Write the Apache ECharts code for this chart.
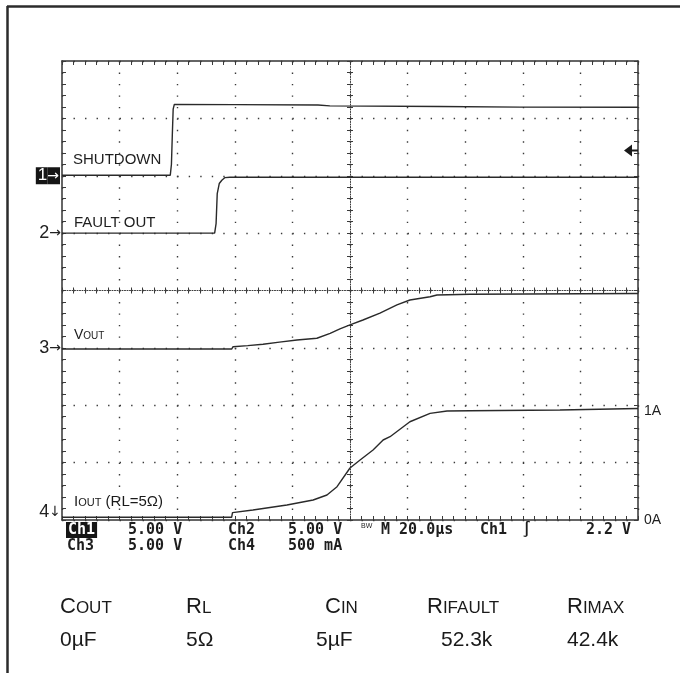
<!DOCTYPE html>
<html>
<head>
<meta charset="utf-8">
<script src="https://cdn.jsdelivr.net/npm/echarts@6/dist/echarts.min.js"></script>
<style>
  html, body { margin: 0; padding: 0; background: #ffffff; }
  #scope { width: 680px; height: 673px; }
</style>
</head>
<body>
<div id="scope"></div>
<script>
// Horizontal: 20 µs/div over 10 divisions
const timeMin = 0;
const timeMax = 200;
const timeStep = 20;

// CH1 – SHUTDOWN (V, 5 V/div)
const shutdownTime  = [0, 37.6, 38.0, 38.3, 38.6, 39.0, 60, 88.9, 93.0, 131, 159, 200];
const shutdownVolts = [0.05, 0.05, 1.0, 3.5, 5.8, 6.22, 6.2, 6.16, 6.09, 6.03, 5.98, 5.97];

// CH2 – FAULT OUT (V, 5 V/div)
const faultTime  = [0, 53.0, 53.5, 53.9, 54.6, 55.5, 56.6, 58.3, 200];
const faultVolts = [0, 0, 0.83, 3.44, 4.32, 4.61, 4.84, 4.87, 4.87];

// CH3 – VOUT (V, 5 V/div)
const voutTime  = [0, 58.9, 59.4, 64.5, 69.8, 75.5, 81.6, 88.5, 93.1, 96.5, 100, 104.5, 110.4, 116.3, 120.8, 127.8, 130.2, 141.7, 200];
const voutVolts = [-0.1, -0.1, 0.1, 0.2, 0.31, 0.5, 0.69, 0.84, 1.27, 1.65, 2.0, 2.43, 3.02, 3.74, 4.17, 4.46, 4.61, 4.67, 4.74];

// CH4 – IOUT (A)
const ioutTime = [0, 58.9, 59.2, 66.3, 78.1, 87.2, 92.0, 95.5, 100, 103.5, 108, 111.5, 113.9, 120.8, 127.8, 133.7, 141.7, 172.9, 200];
const ioutAmps = [0.025, 0.025, 0.067, 0.091, 0.137, 0.183, 0.229, 0.305, 0.476, 0.549, 0.64, 0.732, 0.762, 0.899, 0.976, 0.997, 1.0, 1.006, 1.02];

// Trigger level on CH1
const triggerLevel = 2.2;

// Channel reference markers and current-scale labels
const channelMarks = ['1\u2192', '2\u2192', '3\u2192', '4\u2193'];
const currentTicks = [0, 1];
const currentTickText = ['0A', '1A'];

// Test conditions printed under the screen
const condNames = [['C', 'OUT'], ['R', 'L'], ['C', 'IN'], ['R', 'IFAULT'], ['R', 'IMAX']];
const condValues = ['0\u00b5F', '5\u03a9', '5\u00b5F', '52.3k', '42.4k'];

const zip = (a, b) => a.map((v, i) => [v, b[i]]);

const INK = '#2a2a2a';
const GRID_INK = '#3a3a3a';
const SANS = '"Liberation Sans", Arial, sans-serif';
const MONO = '"DejaVu Sans Mono", "Liberation Mono", monospace';

const plot = { left: 62, top: 61, width: 576, height: 459 };
const yDotPeriod = plot.height / 40;   // minor-division spacing, vertical
const xDotPeriod = plot.width / 50;    // minor-division spacing, horizontal

function frameAxisX(position, withGrid) {
  return {
    type: 'value', min: timeMin, max: timeMax, interval: timeStep, position: position,
    axisLine: { show: true, onZero: false, lineStyle: { color: '#333', width: 1.5 } },
    axisTick: { show: true, inside: true, length: 4, lineStyle: { color: GRID_INK } },
    minorTick: { show: true, splitNumber: 5, length: 4, lineStyle: { color: GRID_INK } },
    axisLabel: { show: false },
    splitLine: withGrid ? { show: true, lineStyle: { color: GRID_INK, width: 1.4, type: [1.4, yDotPeriod - 1.4] } } : { show: false }
  };
}
function frameAxisY(position, withGrid) {
  return {
    type: 'value', min: 0, max: 8, interval: 1, position: position,
    axisLine: { show: true, onZero: false, lineStyle: { color: '#333', width: 1.5 } },
    axisTick: { show: true, inside: true, length: 4, lineStyle: { color: GRID_INK } },
    minorTick: { show: true, splitNumber: 5, length: 4, lineStyle: { color: GRID_INK } },
    axisLabel: { show: false },
    splitLine: withGrid ? { show: true, lineStyle: { color: GRID_INK, width: 1.4, type: [1.4, xDotPeriod - 1.4] } } : { show: false }
  };
}
// centre graticule lines with ticks crossing both sides
function centreAxisX(inside, visibleLine) {
  return {
    type: 'value', min: -5, max: 5, interval: 1, position: 'bottom',
    axisLine: { show: true, onZero: true, onZeroAxisIndex: 2,
      lineStyle: { color: GRID_INK, width: 1, type: [1, 1.5], opacity: visibleLine ? 1 : 0 } },
    axisTick: { show: true, inside: inside, length: 3, lineStyle: { color: GRID_INK } },
    minorTick: { show: true, splitNumber: 5, length: 3, lineStyle: { color: GRID_INK } },
    axisLabel: { show: false }, splitLine: { show: false }
  };
}
function centreAxisY(inside, visibleLine) {
  return {
    type: 'value', min: -4, max: 4, interval: 1, position: 'left',
    axisLine: { show: true, onZero: true, onZeroAxisIndex: 2,
      lineStyle: { color: GRID_INK, width: 1, type: [1, 1.5], opacity: visibleLine ? 1 : 0 } },
    axisTick: { show: true, inside: inside, length: 3, lineStyle: { color: GRID_INK } },
    minorTick: { show: true, splitNumber: 5, length: 3, lineStyle: { color: GRID_INK } },
    axisLabel: { show: false }, splitLine: { show: false }
  };
}
// per-channel vertical scale, labelled only at its ground reference
function channelAxis(min, max, interval, position, labelFn, labelStyle) {
  return {
    type: 'value', min: min, max: max, interval: interval, position: position,
    axisLine: { show: false, onZero: false }, axisTick: { show: false },
    splitLine: { show: false }, minorTick: { show: false },
    axisLabel: Object.assign({ show: true, formatter: labelFn, showMinLabel: true, showMaxLabel: true }, labelStyle)
  };
}

const markRich = {
  n: { fontFamily: SANS, fontSize: 18, color: '#222' },
  a: { fontFamily: 'DejaVu Sans', fontSize: 14, color: '#222' },
  bn: { fontFamily: SANS, fontSize: 17, color: '#fff', backgroundColor: '#151515', padding: [0, 0, 0, 2] },
  ba: { fontFamily: 'DejaVu Sans', fontSize: 14, color: '#fff', backgroundColor: '#151515', padding: [2, 1, 1, 0] }
};
const markLabel = (i) => (v) => {
  if (v !== 0) return '';
  const s = channelMarks[i];
  if (i === 0) return '{bn|' + s[0] + '}{ba|' + s[1] + '}';
  return '{n|' + s[0] + '}{a|' + s[1] + '}';
};

const traceStyle = { color: INK, width: 1.4 };
function trace(name, yIndex, data, extra) {
  return Object.assign({
    name: name, type: 'line', xAxisIndex: 0, yAxisIndex: yIndex, data: data,
    showSymbol: false, symbol: 'none', lineStyle: traceStyle, silent: true, animation: false
  }, extra || {});
}

function captionRich(size, subSize) {
  return {
    m: { fontFamily: SANS, fontSize: size, fill: '#1a1a1a', color: '#1a1a1a' },
    s: { fontFamily: SANS, fontSize: subSize, fill: '#1a1a1a', color: '#1a1a1a', verticalAlign: 'bottom', padding: [0, 0, 1, 0] }
  };
}

const condX = [60, 186, 325, 427, 567];
const condValX = [60, 186, 316, 441, 567];

const graphics = [
  // outer panel frame
  { type: 'line', shape: { x1: 7, y1: 6.5, x2: 680, y2: 6.5 }, style: { stroke: '#2b2b2b', lineWidth: 2.5 }, silent: true },
  { type: 'line', shape: { x1: 7.5, y1: 6, x2: 7.5, y2: 673 }, style: { stroke: '#2b2b2b', lineWidth: 2.5 }, silent: true },
  // trace names
  { type: 'text', x: 73, y: 160, style: { text: 'SHUTDOWN', font: '15px ' + SANS, fill: '#1e1e1e', verticalAlign: 'middle' }, silent: true },
  { type: 'text', x: 74, y: 223, style: { text: 'FAULT OUT', font: '15px ' + SANS, fill: '#1e1e1e', verticalAlign: 'middle' }, silent: true },
  { type: 'text', x: 74, y: 335, style: { text: '{m|V}{s|OUT}', rich: captionRich(14, 10), verticalAlign: 'middle' }, silent: true },
  { type: 'text', x: 74, y: 502, style: { text: '{m|I}{s|OUT}{m| (RL=5\u03a9)}', rich: captionRich(15, 11), verticalAlign: 'middle' }, silent: true },
  // scope readout
  { type: 'text', x: 66, y: 530, style: { text: 'Ch1', font: 'bold 15px ' + MONO, fill: '#fff', backgroundColor: '#151515', padding: [1, 2, 0, 2], verticalAlign: 'middle' }, silent: true },
  { type: 'text', x: 128, y: 530, style: { text: '5.00 V', font: 'bold 15px ' + MONO, fill: '#1e1e1e', verticalAlign: 'middle' }, silent: true },
  { type: 'text', x: 228, y: 530, style: { text: 'Ch2', font: 'bold 15px ' + MONO, fill: '#1e1e1e', verticalAlign: 'middle' }, silent: true },
  { type: 'text', x: 288, y: 530, style: { text: '5.00 V', font: 'bold 15px ' + MONO, fill: '#1e1e1e', verticalAlign: 'middle' }, silent: true },
  { type: 'text', x: 361, y: 526, style: { text: 'BW', font: '7px ' + SANS, fill: '#1e1e1e', verticalAlign: 'middle' }, silent: true },
  { type: 'text', x: 381, y: 530, style: { text: 'M 20.0\u00b5s', font: 'bold 15px ' + MONO, fill: '#1e1e1e', verticalAlign: 'middle' }, silent: true },
  { type: 'text', x: 480, y: 530, style: { text: 'Ch1', font: 'bold 15px ' + MONO, fill: '#1e1e1e', verticalAlign: 'middle' }, silent: true },
  { type: 'text', x: 522, y: 530, style: { text: '\u222b', font: 'bold 15px ' + MONO, fill: '#1e1e1e', verticalAlign: 'middle' }, silent: true },
  { type: 'text', x: 586, y: 530, style: { text: '2.2 V', font: 'bold 15px ' + MONO, fill: '#1e1e1e', verticalAlign: 'middle' }, silent: true },
  { type: 'text', x: 67, y: 546, style: { text: 'Ch3', font: 'bold 15px ' + MONO, fill: '#1e1e1e', verticalAlign: 'middle' }, silent: true },
  { type: 'text', x: 128, y: 546, style: { text: '5.00 V', font: 'bold 15px ' + MONO, fill: '#1e1e1e', verticalAlign: 'middle' }, silent: true },
  { type: 'text', x: 228, y: 546, style: { text: 'Ch4', font: 'bold 15px ' + MONO, fill: '#1e1e1e', verticalAlign: 'middle' }, silent: true },
  { type: 'text', x: 288, y: 546, style: { text: '500 mA', font: 'bold 15px ' + MONO, fill: '#1e1e1e', verticalAlign: 'middle' }, silent: true }
];
condNames.forEach((nm, i) => {
  graphics.push({ type: 'text', x: condX[i], y: 607,
    style: { text: '{m|' + nm[0] + '}{s|' + nm[1] + '}', rich: captionRich(22, 17), verticalAlign: 'middle' }, silent: true });
  graphics.push({ type: 'text', x: condValX[i], y: 640,
    style: { text: condValues[i], font: '21px ' + SANS, fill: '#1a1a1a', verticalAlign: 'middle' }, silent: true });
});

const chart = echarts.init(document.getElementById('scope'), null, { renderer: 'canvas' });
chart.setOption({
  backgroundColor: '#ffffff',
  animation: false,
  grid: { left: plot.left, top: plot.top, width: plot.width, height: plot.height, containLabel: false, show: false },
  xAxis: [
    frameAxisX('bottom', true),
    frameAxisX('top', false),
    centreAxisX(true, true),
    centreAxisX(false, false)
  ],
  yAxis: [
    frameAxisY('left', true),
    frameAxisY('right', false),
    centreAxisY(true, true),
    centreAxisY(false, false),
    channelAxis(-30, 10, 10, 'left', markLabel(0), { margin: 2, rich: markRich }),
    channelAxis(-25, 15, 5, 'left', markLabel(1), { margin: 1, rich: markRich }),
    channelAxis(-15, 25, 5, 'left', markLabel(2), { margin: 1, rich: markRich }),
    channelAxis(0, 4.2, 1, 'left', markLabel(3), { margin: 1, rich: markRich, verticalAlign: 'bottom', lineHeight: 16 }),
    channelAxis(0, 4.2, 1, 'right', (v) => {
      const k = currentTicks.indexOf(v);
      return k >= 0 ? currentTickText[k] : '';
    }, { margin: 6, fontFamily: SANS, fontSize: 14, color: '#1e1e1e' })
  ],
  series: [
    trace('SHUTDOWN', 4, zip(shutdownTime, shutdownVolts), {
      markPoint: {
        silent: true, animation: false,
        symbol: 'path://M0,6 L8,0 L8,5 L14,5 L14,7 L8,7 L8,12 Z',
        symbolSize: [14, 12], symbolOffset: [-7, 0],
        itemStyle: { color: '#1a1a1a' }, label: { show: false },
        data: [{ coord: [timeMax, triggerLevel] }]
      }
    }),
    trace('FAULT OUT', 5, zip(faultTime, faultVolts)),
    trace('VOUT', 6, zip(voutTime, voutVolts)),
    trace('IOUT', 7, zip(ioutTime, ioutAmps))
  ],
  graphic: graphics
});
</script>
</body>
</html>
